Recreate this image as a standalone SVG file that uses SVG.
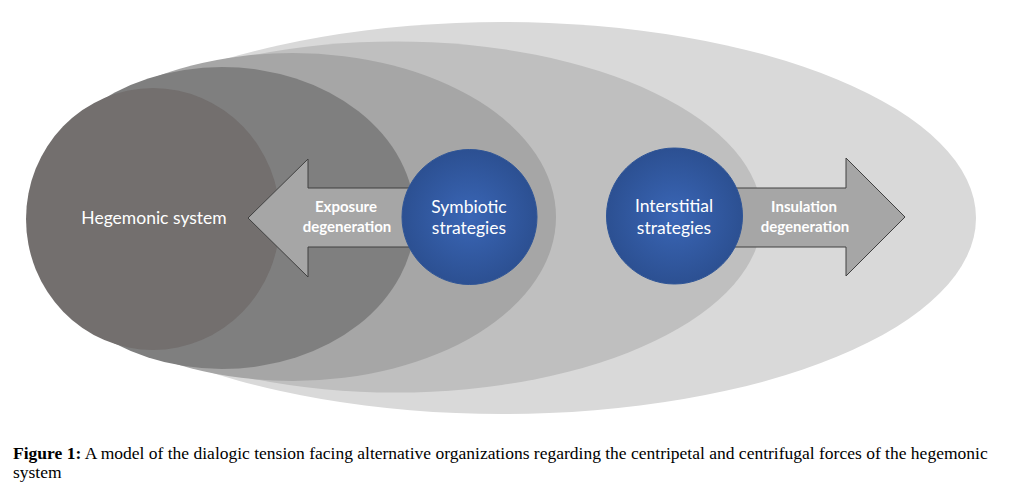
<svg xmlns="http://www.w3.org/2000/svg" width="1024" height="498" viewBox="0 0 1024 498">
  <defs>
    <radialGradient id="blue" cx="50%" cy="50%" r="50%">
      <stop offset="0%" stop-color="#3a66b6"/>
      <stop offset="100%" stop-color="#2c5092"/>
    </radialGradient>
    <style>
      .lbl { font-family: Lato, "Open Sans", "Liberation Sans", sans-serif; fill: #ffffff; text-anchor: middle; }
      .bold { font-weight: bold; font-size: 15px; }
      .reg { font-size: 17.5px; }
      .arrow { fill: #a6a6a6; stroke: #404040; stroke-width: 1; }
      .cap { font-family: "Liberation Serif", "Times New Roman", serif; font-size: 17.5px; fill: #000000; }
    </style>
  </defs>
  <rect width="1024" height="498" fill="#ffffff"/>

  <g id="layer-outer">
    <ellipse cx="502.5" cy="218" rx="473.5" ry="196" fill="#d9d9d9"/>
  </g>
  <g id="layer-3">
    <ellipse cx="395.5" cy="217" rx="366.5" ry="175.5" fill="#bfbfbf"/>
  </g>
  <g id="layer-2">
    <ellipse cx="292.5" cy="217" rx="263.5" ry="164" fill="#a6a6a6"/>
  </g>
  <g id="layer-1">
    <ellipse cx="222" cy="218" rx="193" ry="151" fill="#7f7f7f"/>
  </g>
  <g id="hegemonic-system">
    <ellipse cx="153" cy="219" rx="127" ry="131" fill="#736f6e"/>
    <text class="lbl reg" x="154" y="224">Hegemonic system</text>
  </g>

  <g id="connectors">
    <g id="exposure-degeneration">
      <path class="arrow" d="M440,188 L308,188 L308,159 L248,218 L308,277 L308,247 L440,247 Z"/>
      <text class="lbl bold" x="346" y="212">Exposure</text>
      <text class="lbl bold" x="347" y="232">degeneration</text>
    </g>
    <g id="insulation-degeneration">
      <path class="arrow" d="M700,188 L846,188 L846,158 L905,217 L846,276 L846,247 L700,247 Z"/>
      <text class="lbl bold" x="804" y="212">Insulation</text>
      <text class="lbl bold" x="805" y="232">degeneration</text>
    </g>
  </g>

  <g id="symbiotic-strategies">
    <circle cx="469.5" cy="217" r="67.5" fill="url(#blue)" stroke="#2f5597" stroke-width="1"/>
    <text class="lbl reg" x="469" y="213">Symbiotic</text>
    <text class="lbl reg" x="469" y="234">strategies</text>
  </g>
  <g id="interstitial-strategies">
    <circle cx="674.5" cy="216" r="68" fill="url(#blue)" stroke="#2f5597" stroke-width="1"/>
    <text class="lbl reg" x="674" y="212">Interstitial</text>
    <text class="lbl reg" x="674" y="234">strategies</text>
  </g>

  <g id="caption">
    <text class="cap" x="13" y="459"><tspan font-weight="bold">Figure 1:</tspan> A model of the dialogic tension facing alternative organizations regarding the centripetal and centrifugal forces of the hegemonic</text>
    <text class="cap" x="13" y="478">system</text>
  </g>
</svg>
